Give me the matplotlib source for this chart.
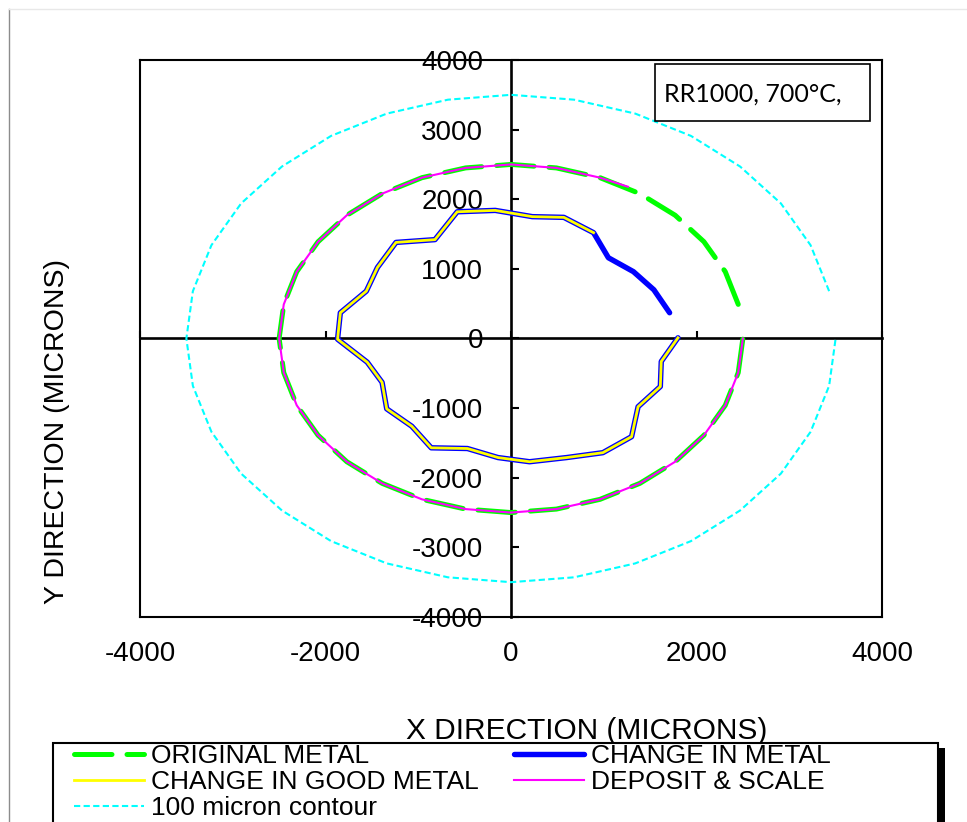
import matplotlib.pyplot as plt
from matplotlib.patches import Rectangle
from matplotlib.lines import Line2D

plt.rcParams['font.family'] = ['Liberation Sans', 'DejaVu Sans']

# 100 micron contour (cyan)
contour_x = [3430, 3230, 2910, 2470, 1940, 1340, 680, 0, -680, -1340, -1940, -2470, -2910, -3230, -3430, -3500,
             -3430, -3230, -2910, -2470, -1940, -1340, -680, 0, 680, 1340, 1940, 2470, 2910, 3230, 3430, 3500]
contour_y = [680, 1340, 1940, 2470, 2910, 3230, 3430, 3500, 3430, 3230, 2910, 2470, 1940, 1340, 680, 0,
             -680, -1340, -1940, -2470, -2910, -3230, -3430, -3500, -3430, -3230, -2910, -2470, -1940, -1340, -680, 0]

# original metal (green dashed)
orig_x = [2450, 2310, 2080, 1770, 1390, 960, 490, 0, -490, -960, -1390, -1770, -2080, -2310, -2450, -2500,
          -2450, -2310, -2080, -1770, -1390, -960, -490, 0, 490, 960, 1390, 1770, 2080, 2310, 2450, 2500]
orig_y = [490, 960, 1390, 1770, 2080, 2310, 2450, 2500, 2450, 2310, 2080, 1770, 1390, 960, 490, 0,
          -490, -960, -1390, -1770, -2080, -2310, -2450, -2500, -2450, -2310, -2080, -1770, -1390, -960, -490, 0]

# deposit & scale (magenta)
dep_x = [1260, 960, 490, 0, -490, -960, -1390, -1770, -2080, -2310, -2450, -2500,
         -2450, -2310, -2080, -1770, -1390, -960, -490, 0, 490, 960, 1390, 1770, 2080, 2310, 2450, 2500]
dep_y = [2180, 2310, 2450, 2500, 2450, 2310, 2080, 1770, 1390, 960, 490, 0,
         -490, -960, -1390, -1770, -2080, -2310, -2450, -2500, -2450, -2310, -2080, -1770, -1390, -960, -490, 0]

# change in metal (blue)
chg_x = [1710, 1540, 1320, 1050, 890, 570, 230, -170, -580, -820, -1240, -1440, -1560, -1840, -1870,
         -1550, -1390, -1340, -1070, -860, -470, -140, 200, 600, 990, 1300, 1370, 1610, 1620, 1800]
chg_y = [370, 700, 960, 1160, 1520, 1740, 1750, 1840, 1820, 1420, 1380, 1020, 680, 370, -10,
         -340, -630, -1010, -1260, -1570, -1580, -1710, -1770, -1710, -1640, -1410, -980, -690, -330, 10]

# change in good metal (yellow)
good_x = [890, 570, 230, -170, -580, -820, -1240, -1440, -1560, -1840, -1870,
          -1550, -1390, -1340, -1070, -860, -470, -140, 200, 600, 990, 1300, 1370, 1610, 1620, 1800]
good_y = [1520, 1740, 1750, 1840, 1820, 1420, 1380, 1020, 680, 370, -10,
          -340, -630, -1010, -1260, -1570, -1580, -1710, -1770, -1710, -1640, -1410, -980, -690, -330, 10]

x_ticks = [-4000, -2000, 0, 2000, 4000]
y_ticks = [-4000, -3000, -2000, -1000, 0, 1000, 2000, 3000, 4000]

W, H = 967, 822
fig = plt.figure(figsize=(W / 100, H / 100), dpi=100)
ax = fig.add_axes([140 / W, 205 / H, 742 / W, 557 / H])
ax.set_xlim(-4000, 4000)
ax.set_ylim(-4000, 4000)

l_cont, = ax.plot(contour_x, contour_y, color='#00FFFF', lw=1.5, dashes=(3, 1.6), zorder=3)
l_orig, = ax.plot(orig_x, orig_y, color='#00FF00', lw=3.6, dashes=(7.5, 3), dash_capstyle='round', zorder=3)
l_dep, = ax.plot(dep_x, dep_y, color='#FF00FF', lw=1.5, zorder=4)
l_chg, = ax.plot(chg_x, chg_y, color='#0000FF', lw=3.9, solid_capstyle='round', solid_joinstyle='round', zorder=4)
l_good, = ax.plot(good_x, good_y, color='#FFFF00', lw=2.0, zorder=5)

# axes through the origin
ax.spines['left'].set_position('zero')
ax.spines['bottom'].set_position('zero')
for s in ['left', 'bottom']:
    ax.spines[s].set_linewidth(1.9)
for s in ['top', 'right']:
    ax.spines[s].set_linewidth(1.5)
ax.set_xticks(x_ticks)
ax.tick_params(axis='x', direction='in', length=5, width=1.5, labelbottom=False)
ax.set_yticks(y_ticks, [str(v) for v in y_ticks])
ax.tick_params(axis='y', direction='in', length=6, width=1.5, labelsize=20, pad=20)

sec = ax.secondary_xaxis('bottom')
sec.set_xticks(x_ticks, [str(v) for v in x_ticks])
sec.tick_params(length=0, labelsize=20, pad=17)
sec.spines['bottom'].set_linewidth(1.5)
secy = ax.secondary_yaxis('left')
secy.set_yticks([])
secy.spines['left'].set_linewidth(1.5)

fig.text(587 / W, 1 - 731 / H, 'X DIRECTION (MICRONS)', fontsize=21.5, ha='center', va='center')
fig.text(57 / W, 1 - 432 / H, 'Y DIRECTION (MICRONS)', fontsize=20.5, ha='center', va='center', rotation=90)

# annotation box
fig.add_artist(Rectangle((655 / W, 1 - 121 / H), 215 / W, 57 / H, transform=fig.transFigure,
                         facecolor='white', edgecolor='black', lw=1.2, zorder=5))
fig.text(664 / W, 1 - 94 / H, 'RR1000, 700°C,', fontsize=18, family=['Lato', 'DejaVu Sans'],
         ha='left', va='center', zorder=6)

# legend frame with shadow
fig.add_artist(Rectangle((938 / W, -0.05), 7 / W, 1 - 748 / H + 0.05, transform=fig.transFigure,
                         facecolor='black', edgecolor='none', zorder=6))
fig.add_artist(Rectangle((53 / W, -0.05), 885 / W, 1 - 743 / H + 0.05, transform=fig.transFigure,
                         facecolor='white', edgecolor='black', lw=1.5, zorder=7))
leg = fig.legend([l_orig, l_good, l_cont, l_chg, l_dep],
                 ['ORIGINAL METAL', 'CHANGE IN GOOD METAL', '100 micron contour',
                  'CHANGE IN METAL', 'DEPOSIT & SCALE'],
                 loc='upper left', bbox_to_anchor=(74 / W, 1 - 744 / H), ncol=2, fontsize=19,
                 frameon=False, borderpad=0, borderaxespad=0, labelspacing=0.08,
                 handlelength=2.65, handletextpad=0.27, columnspacing=1.33)
leg.set_zorder(8)

# chart area border
fig.add_artist(Line2D([9 / W, 9 / W], [0, 1 - 9 / H], color='#8c8c8c', lw=1, transform=fig.transFigure))
fig.add_artist(Line2D([9 / W, 1], [1 - 9 / H, 1 - 9 / H], color='#e8e8e8', lw=1, transform=fig.transFigure))

fig.savefig('out.png', dpi=100)
